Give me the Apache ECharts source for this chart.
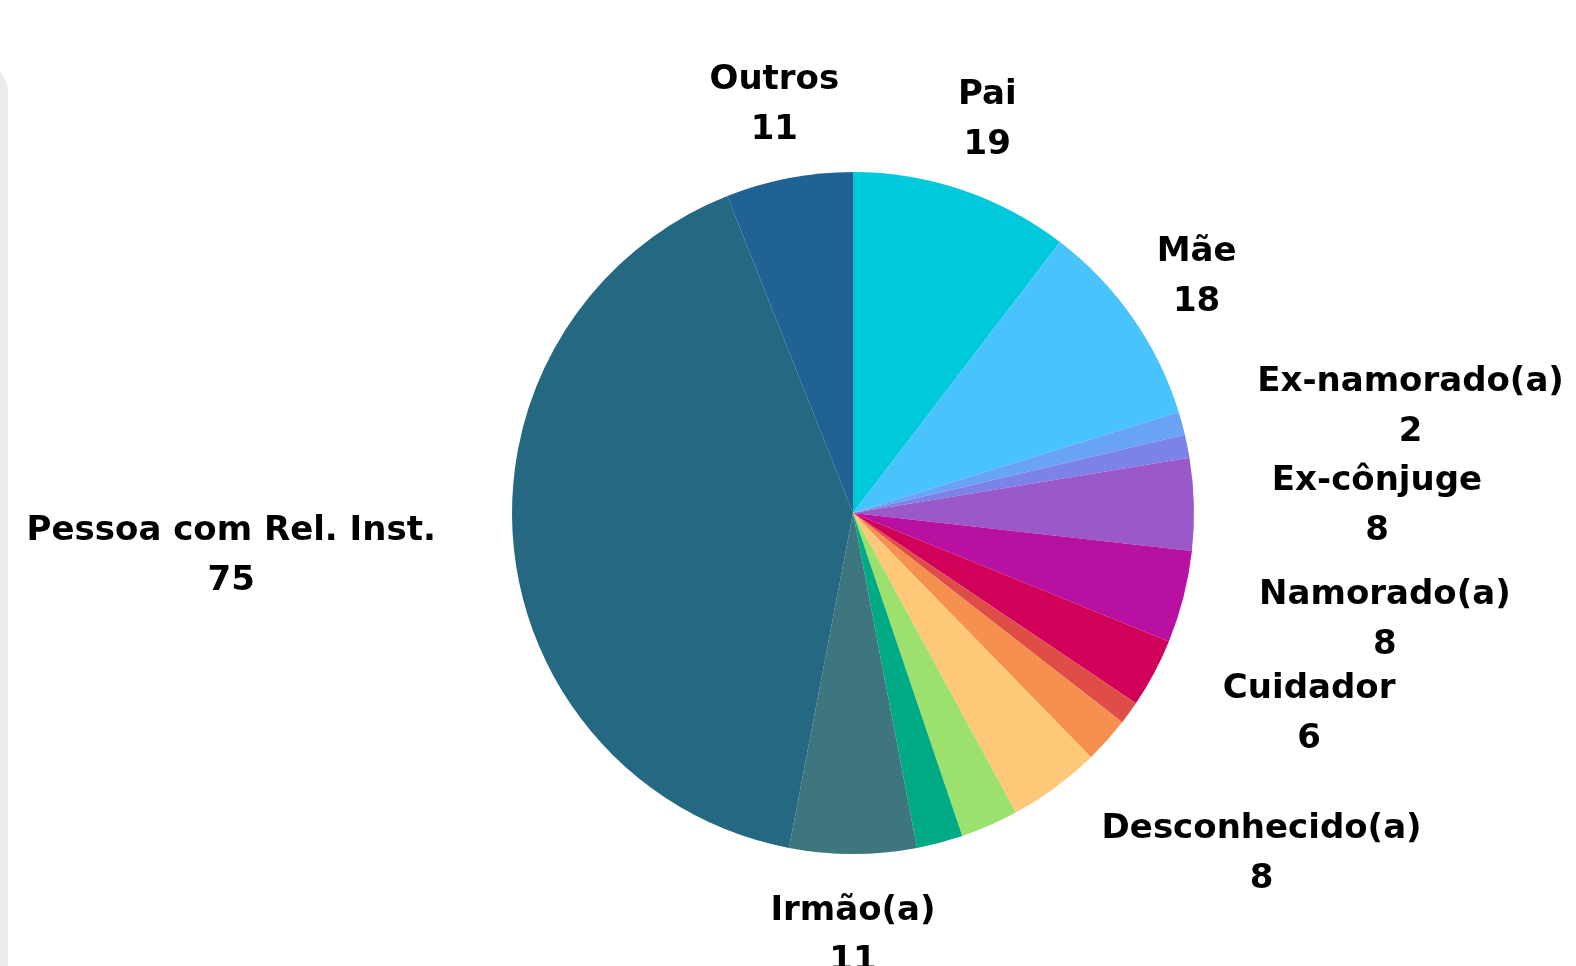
<!DOCTYPE html>
<html>
<head>
<meta charset="utf-8">
<script src="https://cdn.jsdelivr.net/npm/echarts@6/dist/echarts.min.js"></script>
<style>
html,body{margin:0;padding:0;background:#fff;}
#chart{width:1576px;height:966px;}
</style>
</head>
<body>
<div id="chart"></div>
<script>
// ---- data ----
const categories = ['Pai', 'Mãe', 'Ex-namorado(a)', '', 'Ex-cônjuge', 'Namorado(a)', 'Cuidador', '', '', 'Desconhecido(a)', '', '', 'Irmão(a)', 'Pessoa com Rel. Inst.', 'Outros'];
const values = [19, 18, 2, 2, 8, 8, 6, 2, 4, 8, 5, 4, 11, 75, 11];

// ---- style ----
const colors = ['#00c9dc', '#48c3fc', '#68a3f6', '#7d82e8', '#9a58c9', '#b810a0', '#d10059', '#df4d47', '#f5904f', '#fdc978', '#9ce06e', '#00aa84', '#3d767e', '#246881', '#1f6293'];
const CX = 853, CY = 513, R = 341, LR = 419, LABEL_DY = 4;

const total = values.reduce((s, v) => s + v, 0);
const midAngles = [];
let acc = 0;
values.forEach(v => { midAngles.push((acc + v / 2) / total * Math.PI * 2); acc += v; });

const clamp = (v, a, b) => Math.max(a, Math.min(b, v));

const chart = echarts.init(document.getElementById('chart'), null, {renderer: 'canvas'});
chart.setOption({
  backgroundColor: '#ffffff',
  animation: false,
  color: colors,
  graphic: [{
    type: 'rect',
    z: -1,
    shape: {x: -22, y: 62, width: 30, height: 1000, r: [0, 30, 0, 0]},
    style: {fill: '#ebebeb'}
  }],
  series: [{
    type: 'pie',
    center: [CX, CY],
    radius: [0, R],
    startAngle: 90,
    clockwise: true,
    avoidLabelOverlap: false,
    itemStyle: {borderWidth: 0},
    label: {
      show: true,
      position: 'outside',
      formatter: '{b}\n{c}',
      fontFamily: 'DejaVu Sans',
      fontWeight: 'bold',
      fontSize: 34,
      lineHeight: 50,
      color: '#000',
      align: 'center'
    },
    labelLine: {show: false},
    emphasis: {disabled: true},
    labelLayout: function (p) {
      const a = midAngles[p.dataIndex];
      const ax = CX + LR * Math.sin(a), ay = CY - LR * Math.cos(a);
      const w = p.labelRect.width, h = p.labelRect.height;
      const nx = clamp(CX, ax - w / 2, ax + w / 2), ny = clamp(CY, ay - h / 2, ay + h / 2);
      let x = ax;
      if (Math.hypot(nx - CX, ny - CY) < R) x = ax + (ax > CX ? w / 2 : -w / 2);
      return {x: x, y: ay + LABEL_DY, align: 'center', verticalAlign: 'middle'};
    },
    data: categories.map((c, i) => ({
      name: c,
      value: values[i],
      label: {show: c !== ''}
    }))
  }]
});
</script>
</body>
</html>
